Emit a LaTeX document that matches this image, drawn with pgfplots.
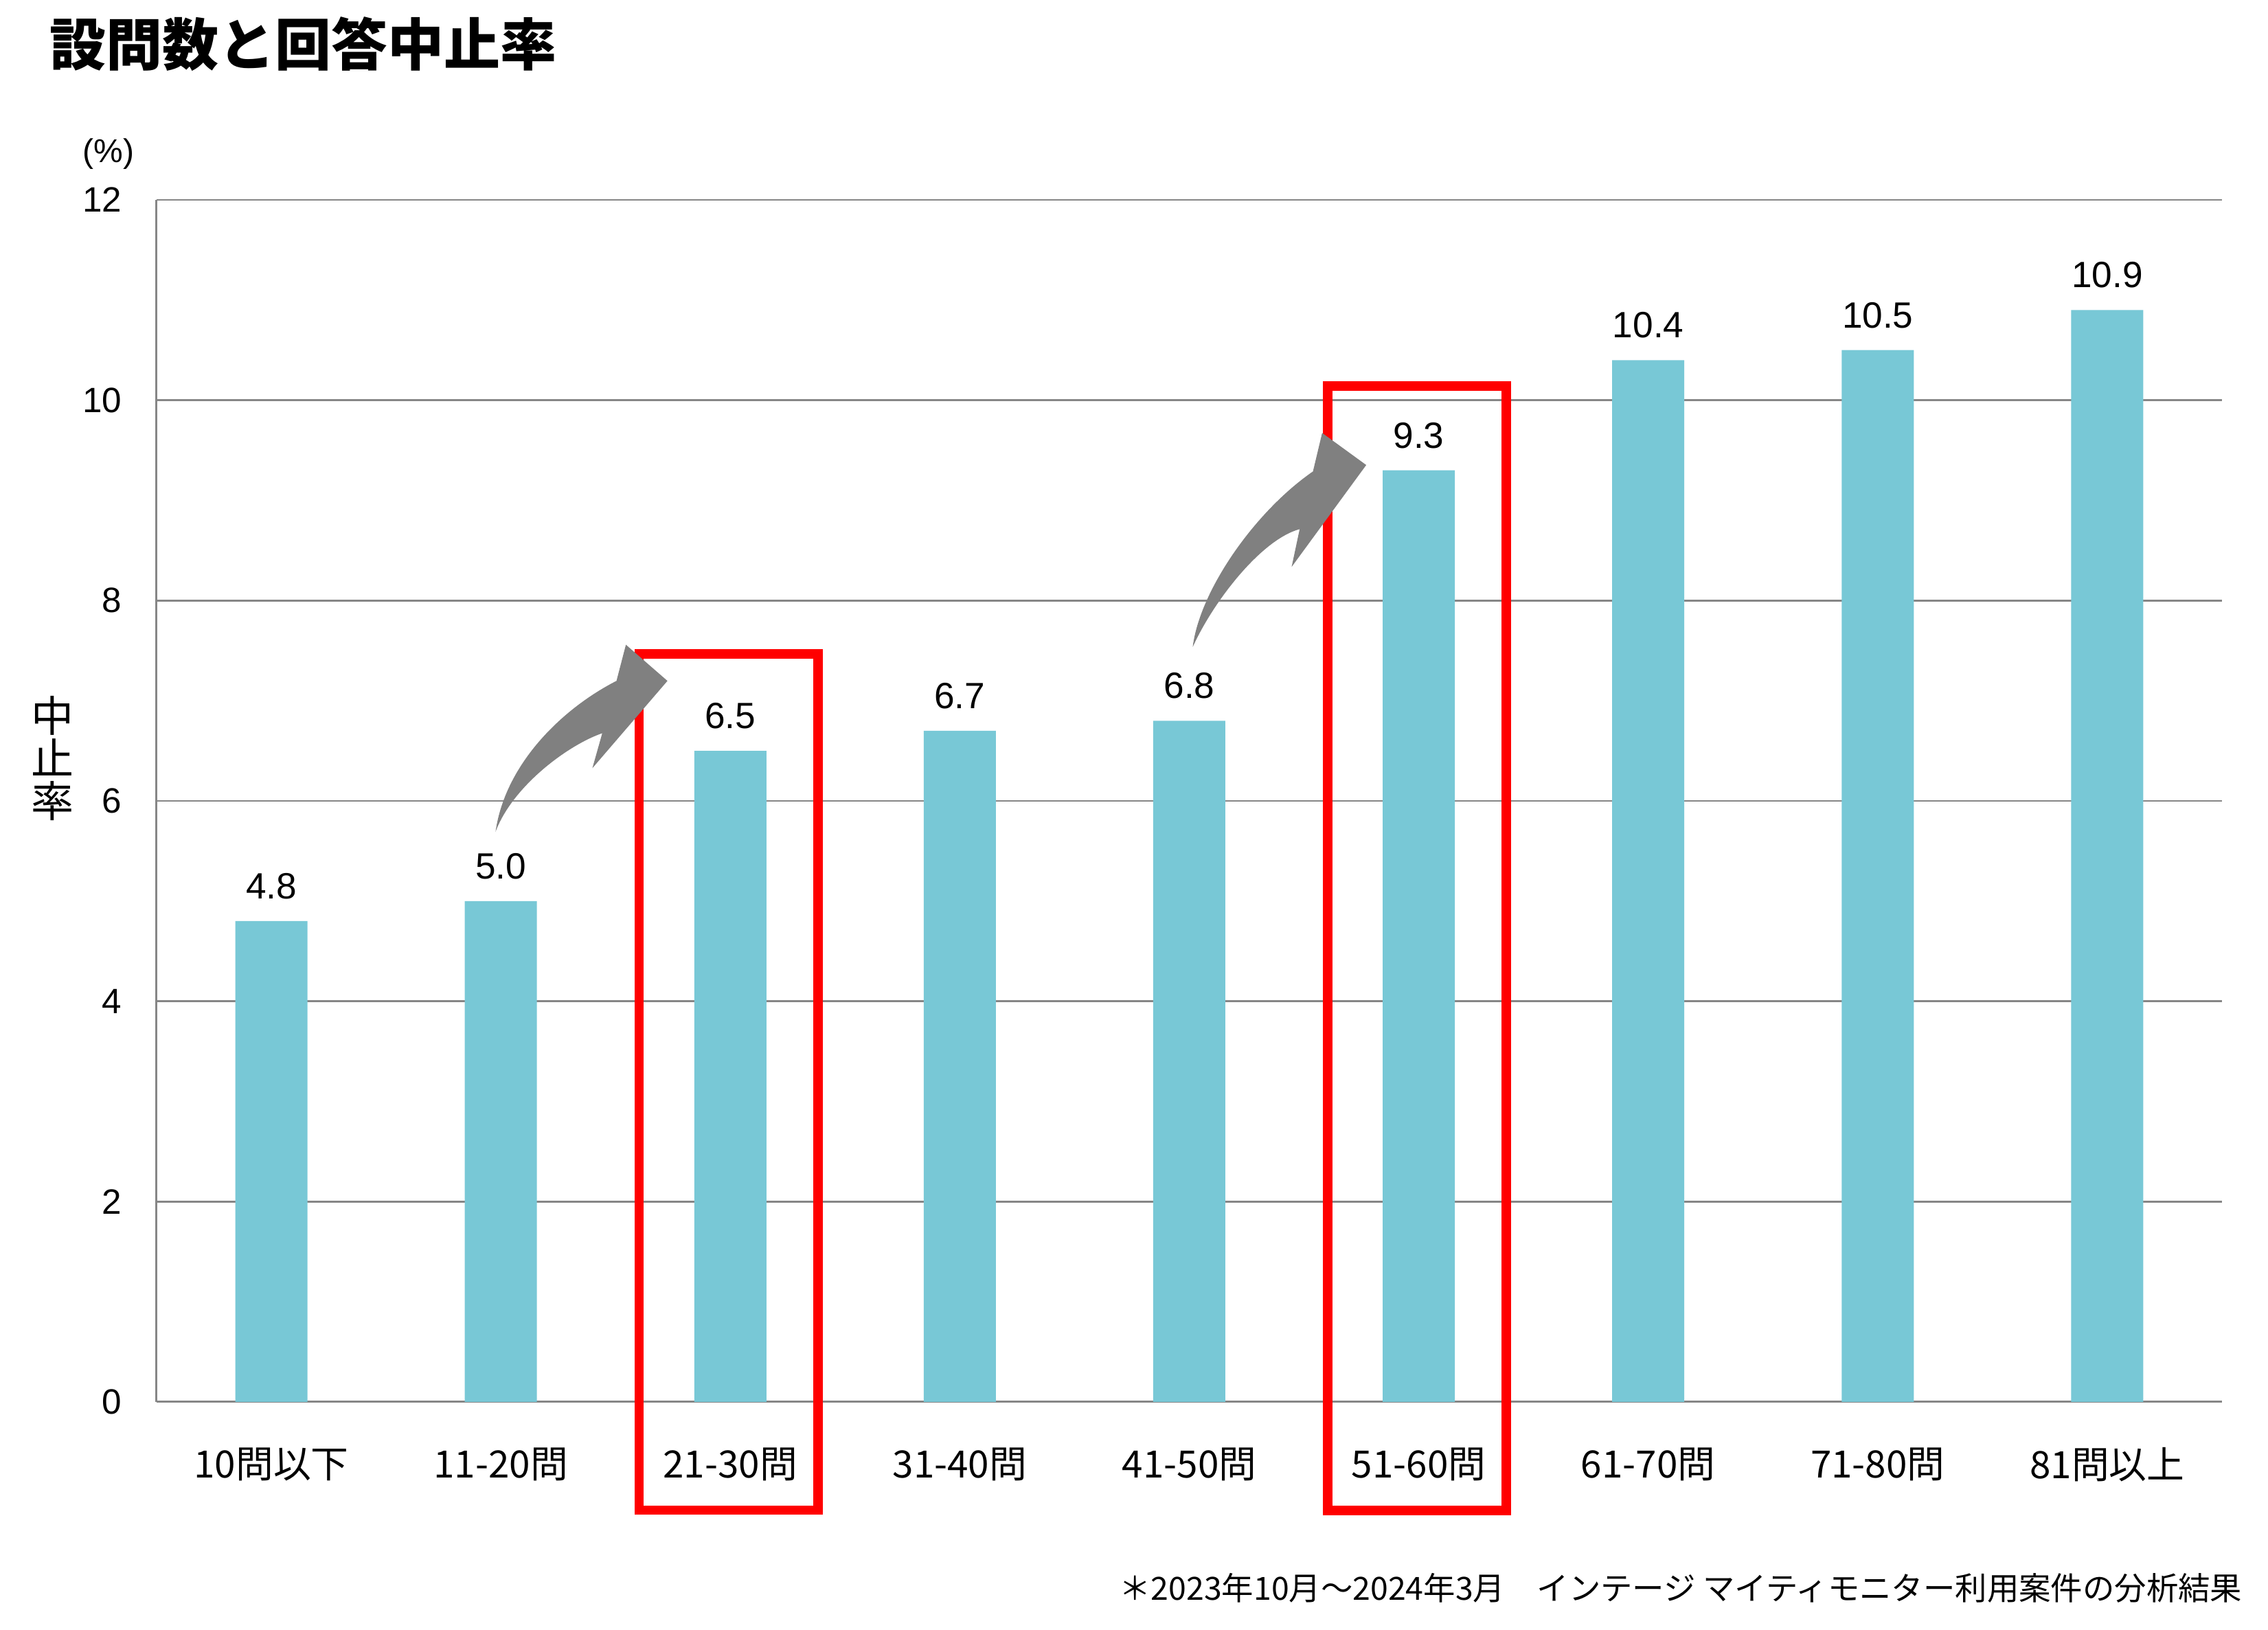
\documentclass[border=0pt]{standalone}
\usepackage{fontspec}
\setmainfont{Liberation Sans}
\newfontfamily\jp{Noto Sans CJK JP}
\usepackage{pgfplots}
\pgfplotsset{compat=1.18}
\definecolor{barblue}{RGB}{120,200,214}
\definecolor{gridgray}{RGB}{134,134,134}
\definecolor{arrowgray}{RGB}{128,128,128}
\definecolor{boxred}{RGB}{255,0,0}
\begin{document}
\begin{tikzpicture}
\path[use as bounding box] (-57pt,-83pt) rectangle (768.5pt,510.25pt);
\begin{axis}[
  at={(0,0)}, anchor=south west,
  scale only axis, width=751.75pt, height=437.5pt,
  xmin=-0.5, xmax=8.5, ymin=0, ymax=12,
  ytick={0,2,...,12},
  xtick={0,...,8},
  xticklabels={10問以下,11-20問,21-30問,31-40問,41-50問,51-60問,61-70問,71-80問,81問以上},
  xticklabel style={font=\jp\fontsize{13.7}{16}\selectfont, anchor=center, inner sep=0pt, yshift=-22.75pt},
  yticklabel style={font=\fontsize{12.8}{15}\selectfont, anchor=east, inner sep=0pt, xshift=-12.5pt},
  /pgf/number format/assume math mode=true,
  major tick length=0pt,
  ymajorgrids, grid style={gridgray, line width=0.6pt},
  axis x line*=bottom, axis y line*=left,
  axis line style={gridgray, line width=0.75pt},
  clip=false,
  ybar, bar width=26.25pt,
  nodes near coords={\pgfmathprintnumber[fixed,fixed zerofill,precision=1]{\pgfplotspointmeta}},
  every node near coord/.append style={font=\fontsize{13.3}{15}\selectfont, anchor=center, inner sep=0pt, yshift=12.75pt, text=black},
]
\addplot[fill=barblue, draw=none] coordinates {
  (0,4.8) (1,5.0) (2,6.5) (3,6.7) (4,6.8) (5,9.3) (6,10.4) (7,10.5) (8,10.9)
};
\draw[boxred, line width=3.4pt] (axis cs:1.603,-1.081) rectangle (axis cs:2.382,7.466);
\draw[boxred, line width=3.5pt] (axis cs:4.602,-1.083) rectangle (axis cs:5.380,10.141);
\fill[arrowgray] (axis cs:0.977,5.692) .. controls (axis cs:1.020,6.382) and (axis cs:1.275,6.931) .. (axis cs:1.504,7.198)
  -- (axis cs:1.545,7.559) -- (axis cs:1.726,7.198) -- (axis cs:1.399,6.327) -- (axis cs:1.442,6.676)
  .. controls (axis cs:1.289,6.554) and (axis cs:1.050,6.142) .. (axis cs:0.977,5.692) -- cycle;
\fill[arrowgray] (axis cs:4.015,7.536) .. controls (axis cs:4.045,8.096) and (axis cs:4.284,8.885) .. (axis cs:4.539,9.289)
  -- (axis cs:4.579,9.673) -- (axis cs:4.771,9.353) -- (axis cs:4.446,8.336) -- (axis cs:4.481,8.713)
  .. controls (axis cs:4.314,8.610) and (axis cs:4.105,7.993) .. (axis cs:4.015,7.536) -- cycle;
\end{axis}
\node[anchor=west, inner sep=0pt, font=\jp\bfseries\fontsize{20.5}{24}\selectfont] at (-39pt,494.25pt) {設問数と回答中止率};
\node[inner sep=0pt, font=\fontsize{12}{14}\selectfont] at (-17.5pt,454.25pt) {(\%)};
\node[inner sep=0pt, font=\jp\fontsize{15.5}{15.5}\selectfont, align=center] at (-37.75pt,234.25pt) {中\\止\\率};
\node[anchor=east, inner sep=0pt, font=\jp\fontsize{11.6}{14}\selectfont] at (759.25pt,-67.75pt) {＊2023年10月～2024年3月　インテージ マイティモニター利用案件の分析結果};
\end{tikzpicture}
\end{document}
